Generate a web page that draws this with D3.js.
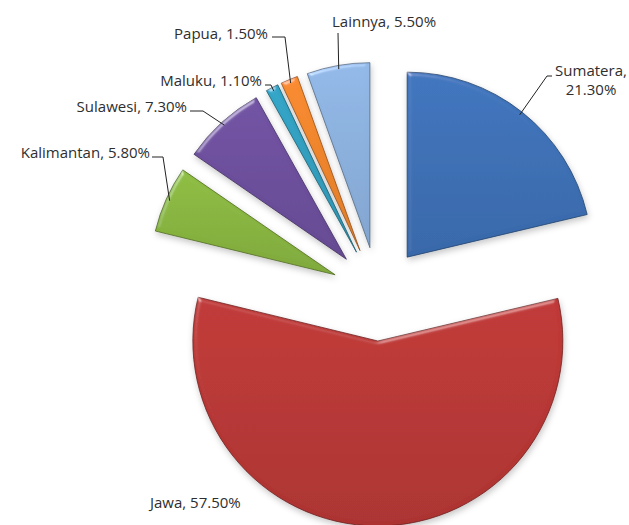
<!DOCTYPE html>
<html>
<head>
<meta charset="utf-8">
<script src="https://cdn.jsdelivr.net/npm/d3@7"></script>
<style>
  body { margin: 0; background: #fff; }
  svg text { font-family: "Open Sans", Lato, sans-serif; font-size: 15px; fill: #2e2e2e; }
</style>
</head>
<body>
<svg id="chart"></svg>
<script>
var W = 629, H = 525;

// data, clockwise from 12 o'clock
var regions = ["Sumatera", "Jawa", "Kalimantan", "Sulawesi", "Maluku", "Papua", "Lainnya"];
var shares  = [21.3, 57.5, 5.8, 7.3, 1.1, 1.5, 5.5];
var colors  = ["#3c70b6", "#b93735", "#88b53f", "#6d4f9d", "#319fc0", "#f0852c", "#8cb1de"];

// label placement (text anchor point, leader start, leader elbow)
var labelLayout = [
  { x: 591, y: 76,  anchor: "middle", lines: 2, from: [552, 76], elbow: [547, 76] },
  { x: 150, y: 508, anchor: "start",  lines: 1, from: null, elbow: null },
  { x: 150, y: 158, anchor: "end",    lines: 1, from: [152, 157], elbow: [163, 157] },
  { x: 187, y: 112, anchor: "end",    lines: 1, from: [190, 111], elbow: [203, 111] },
  { x: 262, y: 86,  anchor: "end",    lines: 1, from: [265, 85], elbow: [271, 85] },
  { x: 268, y: 39,  anchor: "end",    lines: 1, from: [272, 37], elbow: [285, 37] },
  { x: 332, y: 27,  anchor: "start",  lines: 1, from: [338, 33], elbow: [338, 33] }
];

var cx = 378, cy = 294, r = 185, explode = 47;

var svg = d3.select("#chart").attr("width", W).attr("height", H);
var defs = svg.append("defs");

// bevel + shadow, roughly like the old office 3d look
var f = defs.append("filter").attr("id", "bevel")
  .attr("x", "-20%").attr("y", "-20%").attr("width", "140%").attr("height", "140%");
f.append("feGaussianBlur").attr("in", "SourceAlpha").attr("stdDeviation", 2).attr("result", "blur");
f.append("feSpecularLighting").attr("in", "blur").attr("surfaceScale", 3)
  .attr("specularConstant", 0.35).attr("specularExponent", 25)
  .attr("lighting-color", "#ffffff").attr("result", "spec")
  .append("feDistantLight").attr("azimuth", 235).attr("elevation", 25);
f.append("feComposite").attr("in", "spec").attr("in2", "SourceAlpha").attr("operator", "in").attr("result", "specOut");
f.append("feComposite").attr("in", "SourceGraphic").attr("in2", "specOut").attr("operator", "arithmetic")
  .attr("k1", 0).attr("k2", 1).attr("k3", 1).attr("k4", 0).attr("result", "lit");
f.append("feGaussianBlur").attr("in", "SourceAlpha").attr("stdDeviation", 3).attr("result", "sblur");
f.append("feOffset").attr("in", "sblur").attr("dx", 1).attr("dy", 3).attr("result", "soff");
f.append("feFlood").attr("flood-color", "#000").attr("flood-opacity", 0.22).attr("result", "scol");
f.append("feComposite").attr("in", "scol").attr("in2", "soff").attr("operator", "in").attr("result", "shadow");
var m = f.append("feMerge");
m.append("feMergeNode").attr("in", "shadow");
m.append("feMergeNode").attr("in", "lit");

colors.forEach(function(c, i) {
  var g = defs.append("linearGradient").attr("id", "grad" + i)
    .attr("x1", 0).attr("y1", 0).attr("x2", 0).attr("y2", 1);
  g.append("stop").attr("offset", "0%").attr("stop-color", d3.color(c).brighter(0.12));
  g.append("stop").attr("offset", "100%").attr("stop-color", d3.color(c).darker(0.2));
});

var pie = d3.pie().sort(null).value(function(d) { return d; });
var arcs = pie(shares);
var arc = d3.arc().innerRadius(0).outerRadius(r);

var offset = function(a) {
  var mid = (a.startAngle + a.endAngle) / 2;
  return [cx + explode * Math.sin(mid), cy - explode * Math.cos(mid)];
};

svg.selectAll("path.slice")
  .data(arcs)
  .enter().append("path")
  .attr("class", "slice")
  .attr("transform", function(d) { var o = offset(d); return "translate(" + o[0] + "," + o[1] + ")"; })
  .attr("d", arc)
  .attr("fill", function(d, i) { return "url(#grad" + i + ")"; })
  .attr("stroke", function(d, i) { return d3.color(colors[i]).darker(1.5); })
  .attr("stroke-width", 0.8)
  .attr("filter", "url(#bevel)");

// leader lines
arcs.forEach(function(a, i) {
  var L = labelLayout[i];
  if (!L.from) return;
  var o = offset(a);
  var mid = (a.startAngle + a.endAngle) / 2;
  var end = [o[0] + r * 0.98 * Math.sin(mid), o[1] - r * 0.98 * Math.cos(mid)];
  svg.append("path")
    .attr("d", d3.line()([L.from, L.elbow, end]))
    .attr("fill", "none")
    .attr("stroke", "#222")
    .attr("stroke-width", 1);
});

// labels
arcs.forEach(function(a, i) {
  var L = labelLayout[i];
  var pct = shares[i].toFixed(2) + "%";
  var t = svg.append("text").attr("x", L.x).attr("y", L.y).attr("text-anchor", L.anchor);
  if (L.lines == 2) {
    t.append("tspan").attr("x", L.x).text(regions[i] + ",");
    t.append("tspan").attr("x", L.x).attr("dy", 19).text(pct);
  } else {
    t.text(regions[i] + ", " + pct);
  }
});
</script>
</body>
</html>
